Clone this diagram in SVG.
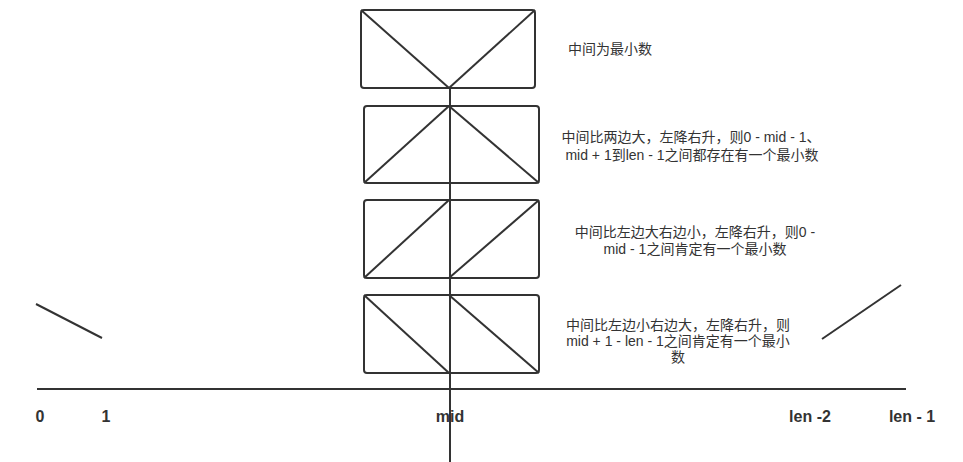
<svg xmlns="http://www.w3.org/2000/svg" width="963" height="462" viewBox="0 0 963 462">
<style>
.box{fill:#fff;stroke:#333;stroke-width:2}
.ln{stroke:#333;stroke-width:2;fill:none}
.t{font-family:"Liberation Sans","Noto Sans CJK SC",sans-serif;font-size:14px;fill:#333;text-anchor:middle}
.ax{font-family:"Liberation Sans","Noto Sans CJK SC",sans-serif;font-size:16px;font-weight:bold;fill:#333;text-anchor:middle}
</style>
<rect width="963" height="462" fill="#fff"/>
<g id="axis">
<line class="ln" x1="37" y1="389" x2="906" y2="389"/>
<line class="ln" x1="36" y1="304" x2="102" y2="338"/>
<line class="ln" x1="822" y1="339" x2="901" y2="285"/>
</g>
<g id="box1">
<rect class="box" x="361" y="10" width="174" height="78" rx="3"/>
<line class="ln" x1="361" y1="10" x2="449" y2="88"/>
<line class="ln" x1="535" y1="10" x2="449" y2="88"/>
</g>
<g id="box2">
<rect class="box" x="364" y="106" width="175" height="77" rx="3"/>
<line class="ln" x1="449" y1="106" x2="364" y2="183"/>
<line class="ln" x1="449" y1="106" x2="539" y2="183"/>
</g>
<g id="box3">
<rect class="box" x="364" y="200" width="175" height="78" rx="3"/>
<line class="ln" x1="364" y1="278" x2="449" y2="200"/>
<line class="ln" x1="449" y1="278" x2="539" y2="200"/>
</g>
<g id="box4">
<rect class="box" x="364" y="295" width="175" height="78" rx="3"/>
<line class="ln" x1="364" y1="295" x2="449" y2="373"/>
<line class="ln" x1="449" y1="295" x2="539" y2="373"/>
</g>
<g id="connectors">
<line class="ln" x1="450" y1="88" x2="450" y2="462"/>
</g>
<g id="labels">
<text class="t" x="610" y="54">中间为最小数</text>
<text class="t" x="691" y="142">中间比两边大，左降右升，则0 - mid - 1、</text>
<text class="t" x="692" y="160">mid + 1到len - 1之间都存在有一个最小数</text>
<text class="t" x="695" y="237">中间比左边大右边小，左降右升，则0 -</text>
<text class="t" x="695" y="254">mid - 1之间肯定有一个最小数</text>
<text class="t" x="678" y="330">中间比左边小右边大，左降右升，则</text>
<text class="t" x="678" y="346">mid + 1 - len - 1之间肯定有一个最小</text>
<text class="t" x="678" y="362">数</text>
<text class="ax" x="40" y="422">0</text>
<text class="ax" x="106" y="422">1</text>
<text class="ax" x="450" y="422">mid</text>
<text class="ax" x="810" y="422">len -2</text>
<text class="ax" x="912" y="422">len - 1</text>
</g>
</svg>
